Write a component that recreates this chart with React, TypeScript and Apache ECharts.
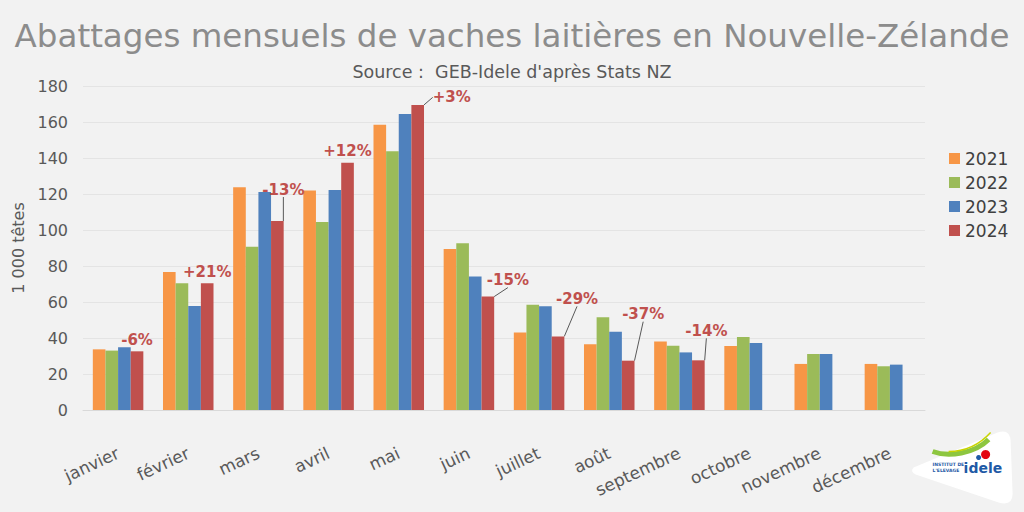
import React, { useEffect, useRef } from "react";
import * as echarts from "echarts";

const months = ["janvier", "février", "mars", "avril", "mai", "juin", "juillet", "août", "septembre", "octobre", "novembre", "décembre"];
const years = ["2021", "2022", "2023", "2024"];
const v2021 = [33.7, 76.7, 123.7, 121.9, 158.5, 89.4, 43.1, 36.5, 38.0, 35.6, 25.6, 25.6];
const v2022 = [33.0, 70.4, 90.7, 104.4, 143.8, 92.6, 58.5, 51.5, 35.7, 40.6, 31.1, 24.3];
const v2023 = [34.8, 57.8, 121.1, 122.2, 164.5, 74.1, 57.6, 43.5, 32.0, 37.2, 31.1, 25.2];
const v2024: (number | null)[] = [32.6, 70.4, 105.0, 137.4, 169.5, 63.0, 40.9, 27.4, 27.6, null, null, null];
const changes = ["-6%", "+21%", "-13%", "+12%", "+3%", "-15%", "-29%", "-37%", "-14%", "", "", ""];
const colors = ["#F79646", "#9BBB59", "#4F81BD", "#C0504D"];
const yTicks = { min: 0, max: 180, interval: 20 };

// label offsets (dx, dy) from the default "top" position, and whether a leader line is drawn
const labelOffsets: [number, number, boolean][] = [
  [0, 0, false], [0, 0, false], [6, -20, true], [0, 0, false], [34, 4, true],
  [20, -5, true], [19, -26, true], [15, -35, true], [8, -18, true], [0, 0, false], [0, 0, false], [0, 0, false],
];

const FONT = "'DejaVu Sans', sans-serif";

const logoPath = "M5 40 Q1 44 7 47 L90 75 Q104 79 104 66 L102 13 Q101 1 89 5 Z";

export default function App() {
  const ref = useRef<HTMLDivElement>(null);
  useEffect(() => {
    document.body.style.margin = "0";
    echarts.graphic.registerShape("logoShape", echarts.graphic.extendPath(logoPath, {}) as any);
    const chart = echarts.init(ref.current!, null, { renderer: "svg" });
    const barSeries = [v2021, v2022, v2023, v2024].map((vals, i) => ({
      name: years[i],
      type: "bar",
      barGap: "0%",
      barCategoryGap: "28%",
      itemStyle: { color: colors[i] },
      data: i < 3
        ? vals
        : vals.map((v, k) => ({
            value: v,
            label: { show: !!changes[k], formatter: changes[k] },
            labelLine: { show: labelOffsets[k][2] },
          })),
      ...(i === 3
        ? {
            label: {
              show: true,
              position: "top",
              distance: 4,
              color: "#C0504D",
              fontWeight: "bold",
              fontSize: 15,
              fontFamily: FONT,
            },
            labelLayout: (p: any) => ({ dx: labelOffsets[p.dataIndex][0], dy: labelOffsets[p.dataIndex][1] }),
            labelLine: { show: true, lineStyle: { color: "#595959", width: 1 }, length2: 0 },
          }
        : {}),
    }));
    chart.setOption({
      animation: false,
      backgroundColor: "#F2F2F2",
      title: [
        {
          text: "Abattages mensuels de vaches laitières en Nouvelle-Zélande",
          left: "center",
          top: 14,
          textStyle: { fontFamily: FONT, fontSize: 32.5, fontWeight: "normal", color: "#8C8C8C" },
        },
        {
          text: "Source :  GEB-Idele d'après Stats NZ",
          left: "center",
          top: 58,
          textStyle: { fontFamily: FONT, fontSize: 17.5, fontWeight: "normal", color: "#595959" },
        },
      ],
      legend: {
        orient: "vertical",
        left: 944,
        top: 145,
        itemWidth: 11,
        itemHeight: 11,
        itemGap: 7,
        icon: "rect",
        textStyle: { fontFamily: FONT, fontSize: 17, color: "#404040" },
        data: years,
      },
      grid: { left: 83, right: 99, top: 86, bottom: 102 },
      xAxis: {
        type: "category",
        data: months,
        axisLine: { lineStyle: { color: "#D9D9D9" } },
        axisTick: { show: false },
        axisLabel: { rotate: 25, margin: 42, fontFamily: FONT, fontSize: 17, color: "#595959", interval: 0 },
      },
      yAxis: {
        type: "value",
        min: yTicks.min,
        max: yTicks.max,
        interval: yTicks.interval,
        name: "1 000 têtes",
        nameLocation: "middle",
        nameGap: 55,
        nameTextStyle: { fontFamily: FONT, fontSize: 16, color: "#595959" },
        axisLine: { show: false },
        axisTick: { show: false },
        axisLabel: { margin: 15, fontFamily: FONT, fontSize: 16, color: "#595959" },
        splitLine: { lineStyle: { color: "#E4E4E4" } },
      },
      graphic: [
        {
          type: "group",
          left: 912,
          top: 430,
          children: [
            { type: "logoShape", x: 0, y: 0, style: { fill: "#FFFFFF" } },
            {
              type: "bezierCurve",
              shape: { x1: 24, y1: 24, x2: 80, y2: 12, cpx1: 40, cpy1: 30, cpx2: 66, cpy2: 26 },
              style: { stroke: "#8DC63F", lineWidth: 5, fill: null },
            },
            {
              type: "bezierCurve",
              shape: { x1: 40, y1: 24, x2: 82, y2: 5, cpx1: 58, cpy1: 24, cpx2: 72, cpy2: 16 },
              style: { stroke: "#C8D400", lineWidth: 1.5, fill: null },
            },
            { type: "circle", shape: { cx: 77, cy: 27, r: 4.5 }, style: { fill: "#E30613" } },
            { type: "circle", shape: { cx: 70, cy: 30, r: 2.5 }, style: { fill: "#1F5AA6" } },
            { type: "text", x: 24, y: 34, style: { text: "INSTITUT DE", fontSize: 4.5, fontWeight: "bold", fill: "#1F5AA6", fontFamily: FONT } },
            { type: "text", x: 24, y: 40, style: { text: "L'ELEVAGE", fontSize: 4.5, fontWeight: "bold", fill: "#1F5AA6", fontFamily: FONT } },
            { type: "text", x: 55, y: 33, style: { text: "idele", fontSize: 14, fontWeight: "bold", fill: "#1F5AA6", fontFamily: FONT } },
          ],
        },
      ],
      series: barSeries,
    });
    return () => chart.dispose();
  }, []);
  return <div ref={ref} style={{ width: 1024, height: 512, position: "absolute", left: 0, top: 0 }} />;
}
